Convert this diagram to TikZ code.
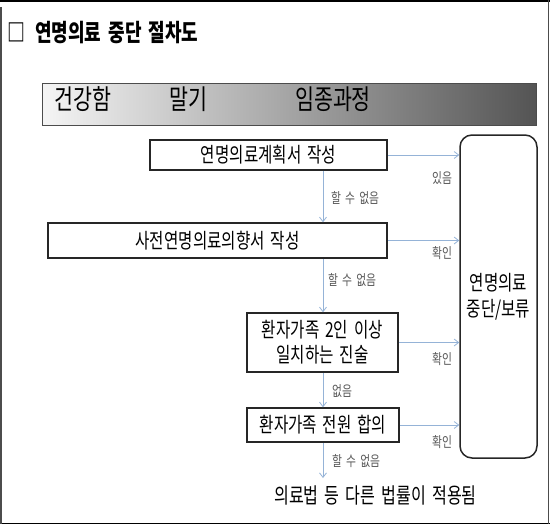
\documentclass[tikz,border=0pt]{standalone}
\usepackage{fontspec}
\setmainfont{Noto Sans CJK KR}[FakeStretch=0.75, WordSpace=1.7]
\usetikzlibrary{arrows.meta,calc}
\definecolor{arrowblue}{HTML}{95B3D7}
\definecolor{labelgray}{HTML}{595959}
\begin{document}
\begin{tikzpicture}[x=1pt,y=-1pt,
  stepbox/.style={draw=black!85, line width=1.5pt, inner sep=0pt, align=center,
    font=\fontsize{20.8}{24}\selectfont},
  flow/.style={draw=arrowblue, line width=0.8pt, -{Straight Barb[length=4.5pt,width=7pt]}},
  lbl/.style={text=labelgray, font=\fontsize{14.4}{16}\selectfont, inner sep=0pt},
  bartext/.style={font=\fontsize{27.5}{31}\selectfont, inner sep=0pt},
  frameline/.style={line width=1.5pt}
  ]
\useasboundingbox (0,0) rectangle (550,525);
% frame
\draw[frameline, black] (0,0.75) -- (550,0.75);
\draw[frameline, black] (0,523.5) -- (550,523.5);
\draw[frameline, black!70] (0.9,7) -- (0.9,523.5);
\draw[frameline, black!70] (548.6,0) -- (548.6,523.5);
% title
\node[anchor=west, inner sep=0pt, font=\bfseries\fontsize{24}{28}\selectfont] (title) at (7,33) {□\hspace{3pt} 연명의료 중단 절차도};
% gradient bar
\node[draw=black!70, line width=0.9pt, minimum width=494pt, minimum height=42pt, inner sep=0pt,
  left color=black!4, middle color=black!40, right color=black!67, shading angle=90] (bar) at (289,104) {};
\node[bartext] (t1) at (83,99) {건강함};
\node[bartext] (t2) at (188,99) {말기};
\node[bartext] (t3) at (333,99) {임종과정};
% boxes
\node[stepbox, minimum width=237pt, minimum height=30pt] (b1) at (268.5,155) {연명의료계획서 작성};
\node[stepbox, minimum width=339pt, minimum height=35pt] (b2) at (217.5,240.5) {사전연명의료의향서 작성};
\node[stepbox, minimum width=151pt, minimum height=59pt, font=\fontsize{20.8}{25}\selectfont] (b3) at (322.5,342.5) {환자가족 2인 이상\\일치하는 진술};
\node[stepbox, minimum width=152pt, minimum height=34pt] (b4) at (323,425) {환자가족 전원 합의};
\node[stepbox, rounded corners=12pt, minimum width=77pt, minimum height=323pt, font=\fontsize{20.8}{26}\selectfont] (res) at (498.5,296.5) {연명의료\\중단/보류};
\node[inner sep=0pt, font=\fontsize{21.5}{24}\selectfont] (law) at (375.5,495) {의료법 등 다른 법률이 적용됨};
% column
\coordinate (col) at (323,0);
\coordinate (endpt) at (323,478);
% horizontal arrows
\draw[flow] (b1.east) -- (b1.east -| res.west);
\draw[flow] (b2.east) -- (b2.east -| res.west);
\draw[flow] (b3.east) -- (b3.east -| res.west);
\draw[flow] (b4.east) -- (b4.east -| res.west);
\node[lbl] (l1) at (442,178) {있음};
\node[lbl] (l2) at (442,253) {확인};
\node[lbl] (l3) at (442,359) {확인};
\node[lbl] (l4) at (442,442) {확인};
% vertical arrows
\draw[flow] (b1.south -| col) -- (b2.north -| col);
\draw[flow] (b2.south -| col) -- (b3.north -| col);
\draw[flow] (b3.south -| col) -- (b4.north -| col);
\draw[flow] (b4.south -| col) -- (endpt);
\node[lbl, anchor=west] (v1) at (331,198) {할 수 없음};
\node[lbl, anchor=west] (v2) at (328,280) {할 수 없음};
\node[lbl, anchor=west] (v3) at (332,391) {없음};
\node[lbl, anchor=west] (v4) at (332,461) {할 수 없음};
\end{tikzpicture}
\end{document}
